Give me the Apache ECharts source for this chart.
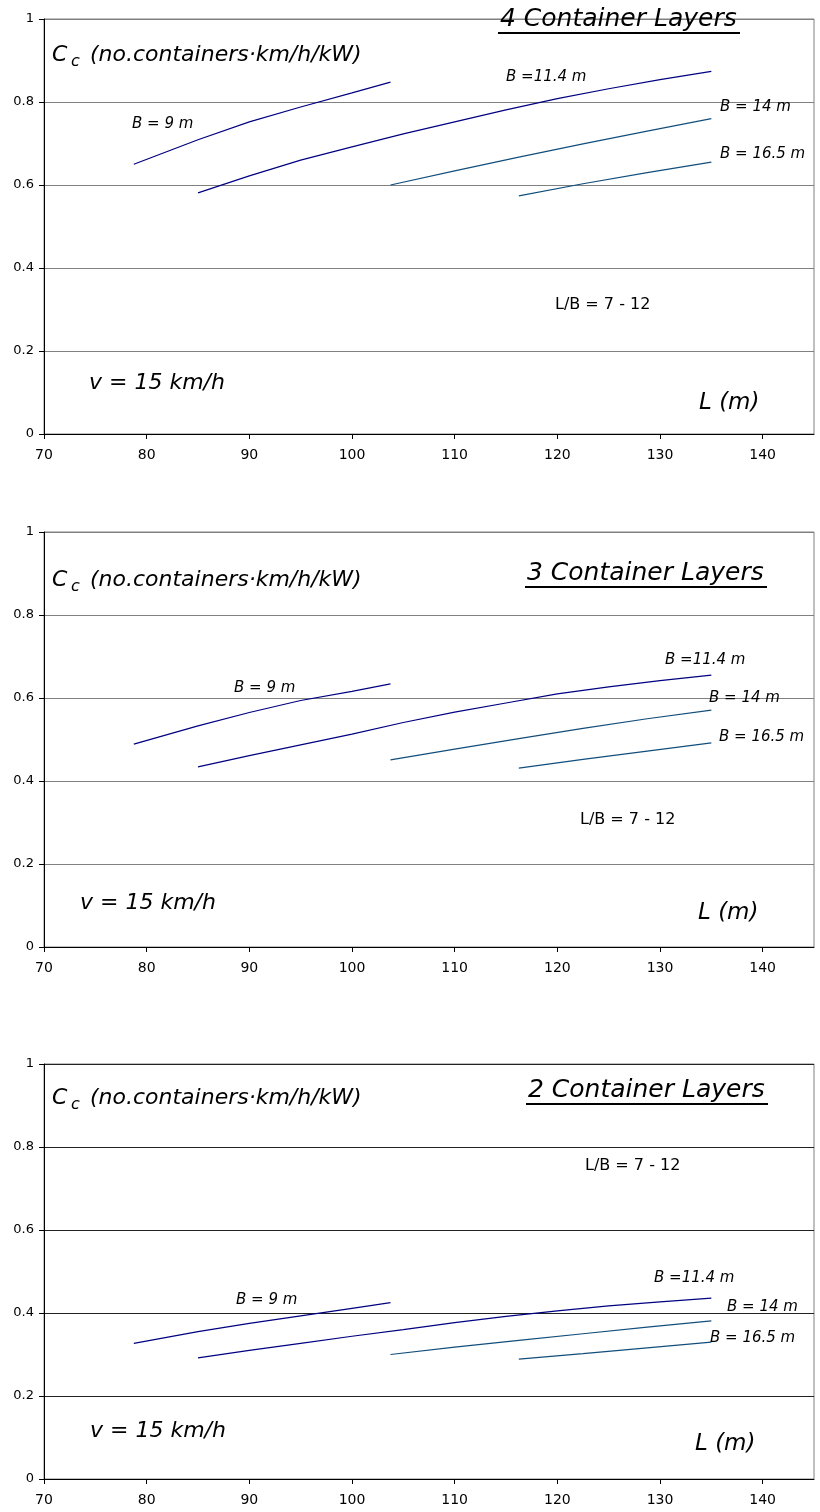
<!DOCTYPE html>
<html>
<head>
<meta charset="utf-8">
<script src="https://cdn.jsdelivr.net/npm/echarts@6/dist/echarts.min.js"></script>
<style>
  html, body { margin: 0; padding: 0; background: #fff; }
  #chart { width: 820px; height: 1512px; }
</style>
</head>
<body>
<div id="chart"></div>
<script>
// Ship length L (m) sampled for each beam B
const L_B9   = [78.75, 85, 90, 95, 100, 103.75];
const L_B114 = [85, 90, 95, 100, 105, 110, 115, 120, 125, 130, 135];
const L_B14  = [103.75, 110, 116.25, 122.5, 128.75, 135];
const L_B165 = [116.25, 122.5, 128.75, 135];

// Container transport coefficient Cc, 4 container layers
const cc4_B9   = [0.650, 0.709, 0.752, 0.788, 0.822, 0.848];
const cc4_B114 = [0.581, 0.622, 0.660, 0.692, 0.723, 0.752, 0.781, 0.808, 0.832, 0.854, 0.874];
const cc4_B14  = [0.600, 0.634, 0.667, 0.699, 0.730, 0.760];
const cc4_B165 = [0.574, 0.603, 0.630, 0.655];

// 3 container layers
const cc3_B9   = [0.489, 0.533, 0.565, 0.594, 0.616, 0.634];
const cc3_B114 = [0.434, 0.461, 0.487, 0.513, 0.541, 0.566, 0.588, 0.610, 0.627, 0.642, 0.655];
const cc3_B14  = [0.451, 0.477, 0.502, 0.527, 0.550, 0.571];
const cc3_B165 = [0.431, 0.452, 0.472, 0.492];

// 2 container layers
const cc2_B9   = [0.327, 0.355, 0.375, 0.393, 0.411, 0.425];
const cc2_B114 = [0.292, 0.310, 0.327, 0.344, 0.360, 0.377, 0.392, 0.405, 0.417, 0.427, 0.436];
const cc2_B14  = [0.300, 0.318, 0.334, 0.350, 0.366, 0.381];
const cc2_B165 = [0.289, 0.302, 0.316, 0.330];

// Axis ticks
const xTicks = [70, 80, 90, 100, 110, 120, 130, 140];
const yTicks = [0, 0.2, 0.4, 0.6, 0.8, 1];

const panelTitles = ['4 Container Layers', '3 Container Layers', '2 Container Layers'];
const beamLabels  = ['B = 9 m', 'B =11.4 m', 'B = 14 m', 'B = 16.5 m'];
const lengths     = [L_B9, L_B114, L_B14, L_B165];
const panelValues = [
  [cc4_B9, cc4_B114, cc4_B14, cc4_B165],
  [cc3_B9, cc3_B114, cc3_B14, cc3_B165],
  [cc2_B9, cc2_B114, cc2_B14, cc2_B165]
];

// Layout of the three stacked panels
const FONT = '"DejaVu Sans", "Liberation Sans", sans-serif';
const panelTops = [19, 532, 1064];
const panelHeight = 415;
const gridLineColors = ['#808080', '#808080', '#222222'];
const lineColors = ['#000080', '#000080', '#124e7c', '#124e7c'];

// Annotation anchors per panel (left x, middle y)
const annot = [
  { cc: [52, 55], title: [500, 19], beam: [[132, 124], [506, 77], [720, 107], [720, 154]], lb: [555, 305], v: [89, 383], L: [699, 403] },
  { cc: [52, 580], title: [527, 573], beam: [[234, 688], [665, 660], [709, 698], [719, 737]], lb: [580, 820], v: [80, 903], L: [698, 913] },
  { cc: [52, 1098], title: [528, 1090], beam: [[236, 1300], [654, 1278], [727, 1307], [710, 1338]], lb: [585, 1166], v: [90, 1431], L: [695, 1444] }
];

const grids = [], xAxes = [], yAxes = [], series = [], graphics = [];

function txt(x, y, text, font) {
  return {
    type: 'text', x: x, y: y, z: 100,
    style: { text: text, font: font, fill: '#000', align: 'left', verticalAlign: 'middle' }
  };
}

panelTops.forEach(function (top, i) {
  grids.push({
    left: 44, top: top, width: 770, height: panelHeight,
    show: true, borderColor: '#808080', borderWidth: 1, backgroundColor: '#fff'
  });
  xAxes.push({
    gridIndex: i, type: 'value', min: 70, max: 145, interval: 10,
    axisLine: { show: true, onZero: false, lineStyle: { color: '#000', width: 1 } },
    axisTick: { show: true, length: 5, customValues: xTicks, lineStyle: { color: '#000' } },
    axisLabel: { customValues: xTicks, margin: 14, fontSize: 14, fontFamily: FONT, color: '#000' },
    splitLine: { show: false }
  });
  yAxes.push({
    gridIndex: i, type: 'value', min: 0, max: 1, interval: 0.2,
    axisLine: { show: true, onZero: false, lineStyle: { color: '#000', width: 1 } },
    axisTick: { show: true, length: 5, customValues: yTicks, lineStyle: { color: '#000' } },
    axisLabel: {
      customValues: yTicks, margin: 10, fontSize: 13, fontFamily: FONT, color: '#000',
      formatter: function (v) { return String(+(+v).toFixed(1)); }
    },
    splitLine: { show: true, lineStyle: { color: gridLineColors[i], width: 1 } }
  });

  panelValues[i].forEach(function (vals, k) {
    series.push({
      type: 'line', name: beamLabels[k], xAxisIndex: i, yAxisIndex: i,
      data: lengths[k].map(function (L, j) { return [L, vals[j]]; }),
      symbol: 'none', smooth: false, silent: true, z: 5,
      lineStyle: { color: lineColors[k], width: 1.2 }
    });
  });

  const a = annot[i];
  // Cc axis caption with subscript
  graphics.push(txt(a.cc[0], a.cc[1], 'C', 'italic 22px ' + FONT));
  graphics.push(txt(a.cc[0] + 19, a.cc[1] + 7, 'c', 'italic 16px ' + FONT));
  graphics.push(txt(a.cc[0] + 38, a.cc[1], '(no.containers\u00b7km/h/kW)', 'italic 22px ' + FONT));
  // Panel heading, underlined
  graphics.push(txt(a.title[0], a.title[1], panelTitles[i], 'italic 25px ' + FONT));
  graphics.push({
    type: 'line', z: 100,
    shape: { x1: a.title[0] - 2, y1: a.title[1] + 14, x2: a.title[0] + 240, y2: a.title[1] + 14 },
    style: { stroke: '#000', lineWidth: 2 }
  });
  // Curve labels
  a.beam.forEach(function (p, k) {
    graphics.push(txt(p[0], p[1], beamLabels[k], 'italic 15px ' + FONT));
  });
  graphics.push(txt(a.lb[0], a.lb[1], 'L/B = 7 - 12', '16px ' + FONT));
  graphics.push(txt(a.v[0], a.v[1], 'v = 15 km/h', 'italic 22px ' + FONT));
  graphics.push(txt(a.L[0], a.L[1], 'L (m)', 'italic 23px ' + FONT));
});

const chart = echarts.init(document.getElementById('chart'), null, { renderer: 'canvas' });
chart.setOption({
  animation: false,
  backgroundColor: '#fff',
  grid: grids,
  xAxis: xAxes,
  yAxis: yAxes,
  series: series,
  graphic: graphics
});
</script>
</body>
</html>
